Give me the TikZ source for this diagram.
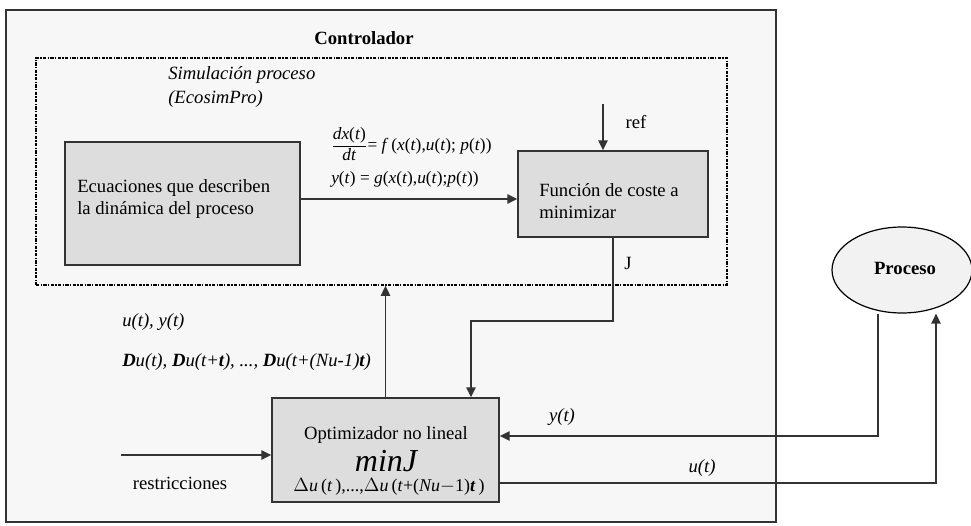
\documentclass[tikz,border=0pt]{standalone}
\usepackage{fontspec}
\setmainfont{Liberation Serif}
\usetikzlibrary{arrows.meta,shapes.geometric}

\definecolor{panel}{HTML}{F7F7F7}
\definecolor{boxfill}{HTML}{DDDDDD}
\definecolor{ovalfill}{HTML}{F2F2F2}
\definecolor{wire}{HTML}{333333}

\newcommand{\iv}[1]{\textit{#1}}

\tikzset{
  txt/.style={font=\fontsize{14}{17}\selectfont, inner sep=0pt},
  eqtxt/.style={font=\fontsize{13}{16}\selectfont, inner sep=0pt},
  blockbox/.style={draw=wire, fill=boxfill, line width=1.1pt},
  arr/.style={draw=wire, line width=1.1pt, -{Triangle[length=7.5pt,width=7pt]}},
}

\begin{document}
\begin{tikzpicture}[x=0.75pt,y=-0.75pt]
\useasboundingbox (0,0) rectangle (971,525);
\fill[white] (0,0) rectangle (971,525);

% controller panel
\node[draw=wire, fill=panel, line width=1.1pt, minimum width=770*0.75pt, minimum height=512*0.75pt, inner sep=0pt] (ctrl) at (391,266) {};
\node[txt, font=\fontsize{14}{17}\selectfont\bfseries] (title) at (364,38) {Controlador};

% simulation region (dash-dot frame)
\node[draw=black, line width=1.2pt, dash pattern=on 2.5pt off 1pt on 1pt off 1pt, minimum width=691*0.75pt, minimum height=227*0.75pt, inner sep=0pt] (sim) at (381.5,171.5) {};
\node[txt, anchor=north west, align=left, font=\fontsize{14}{18}\selectfont\itshape] (simlabel) at (168,66) {Simulación proceso\\(EcosimPro)};

% blocks
\node[blockbox, minimum width=235*0.75pt, minimum height=123*0.75pt, inner sep=0pt] (ecu) at (182.5,203.5) {};
\node[txt, anchor=west, align=left] (ecutxt) at (77,199) {Ecuaciones que describen\\la dinámica del proceso};

\node[blockbox, minimum width=190*0.75pt, minimum height=86*0.75pt, inner sep=0pt] (coste) at (613,194) {};
\node[txt, anchor=west, align=left] (costetxt) at (539,201) {Función de coste a\\minimizar};

\node[blockbox, minimum width=227*0.75pt, minimum height=104*0.75pt, inner sep=0pt] (opt) at (385.5,450) {};
\node[txt] (opt1) at (386,435) {Optimizador no lineal};
\node[txt, font=\fontsize{24}{26}\selectfont\itshape] (opt2) at (386,461) {minJ};
\node[eqtxt, font=\fontsize{13.5}{16}\selectfont] (opt3) at (389,487) {$\Delta$\iv{u}\,(\iv{t}\,),...,$\Delta$\iv{u}\,(\iv{t}+(\iv{Nu}$-$1)\textbf{\iv{t}}\,)};

\node[draw=black, fill=ovalfill, ellipse, line width=0.9pt, minimum width=140*0.75pt, minimum height=86*0.75pt, inner sep=0pt] (proc) at (902,270) {};
\node[txt, font=\fontsize{14}{17}\selectfont\bfseries] (proctxt) at (905,268) {Proceso};

% model equations
\node[eqtxt, anchor=base west] (eq1) at (331,150) {$\displaystyle\frac{\mbox{\iv{dx}(\iv{t})}}{\mbox{\iv{dt}}}$= \iv{f}\,(\iv{x}(\iv{t}),\iv{u}(\iv{t}); \iv{p}(\iv{t}))};
\node[eqtxt, anchor=base west] (eq2) at (331,183) {\iv{y}(\iv{t}) = \iv{g}(\iv{x}(\iv{t}),\iv{u}(\iv{t});\iv{p}(\iv{t}))};

% signal labels
\node[txt] (lref) at (636,122) {ref};
\node[txt] (lJ) at (628,263) {J};
\node[txt, anchor=west, font=\fontsize{14}{17}\selectfont\itshape] (luy) at (122,322) {u(t), y(t)};
\node[txt, anchor=west, font=\fontsize{14}{17}\selectfont\itshape] (ldu) at (122,362) {\textbf{D}u(t), \textbf{D}u(t+\textbf{t}), ..., \textbf{D}u(t+(Nu-1)\textbf{t})};
\node[txt] (lres) at (180,483) {restricciones};
\node[txt, font=\fontsize{14}{17}\selectfont\itshape] (ly) at (562,417) {y(t)};
\node[txt, font=\fontsize{14}{17}\selectfont\itshape] (lu) at (702,468) {u(t)};

% connectors
\coordinate (e1) at (300,199);
\draw[arr] (ecu.east |- e1) -- (coste.west |- e1);

\coordinate (refin) at (603,104);
\draw[arr] (refin) -- (refin |- coste.north);

\coordinate (jc) at (471,321);
\draw[arr] (coste.south) |- (jc) -- (jc |- opt.north);

\draw[arr] (opt.north) -- (opt.north |- sim.south);

\coordinate (rs) at (121,455);
\draw[arr] (rs) -- (rs -| opt.west);

\coordinate (yc) at (878,436);
\draw[arr] (yc |- proc.south) -- (yc) -- (yc -| opt.east);

\coordinate (uc) at (936,483);
\draw[arr] (uc -| opt.east) -- (uc) -- (uc |- proc.south);
\end{tikzpicture}
\end{document}
